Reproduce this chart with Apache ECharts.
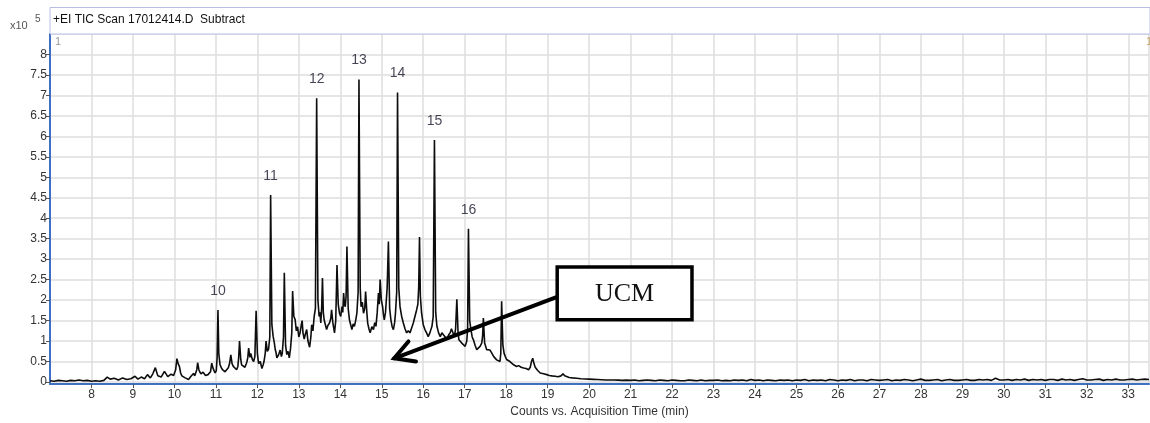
<!DOCTYPE html>
<html>
<head>
<meta charset="utf-8">
<script src="https://cdn.jsdelivr.net/npm/echarts@6/dist/echarts.min.js"></script>
<style>
  html, body { margin: 0; padding: 0; background: #ffffff; }
  #chart { width: 1150px; height: 423px; }
</style>
</head>
<body>
<div id="chart"></div>
<script>
// TIC chromatogram, counts in units of 10^5, retention time in minutes.
// Each segment is a list of [time (min), counts (x10^5)] readings.
const baselineEarly = [
  [7.0, 0.03], [7.1, 0.02], [7.2, 0.04], [7.3, 0.03], [7.4, 0.02], [7.5, 0.04],
  [7.6, 0.03], [7.7, 0.05], [7.8, 0.03], [7.9, 0.04], [8.0, 0.02], [8.1, 0.03],
  [8.2, 0.02], [8.3, 0.04], [8.38, 0.12], [8.45, 0.07], [8.55, 0.09], [8.65, 0.05],
  [8.75, 0.10], [8.85, 0.06], [8.95, 0.08], [9.05, 0.14], [9.12, 0.07], [9.2, 0.12],
  [9.28, 0.08], [9.35, 0.18], [9.42, 0.10], [9.48, 0.20], [9.54, 0.35], [9.6, 0.15],
  [9.68, 0.12], [9.76, 0.26], [9.84, 0.13], [9.92, 0.19], [9.98, 0.16], [10.03, 0.30]
];

const humpRising = [
  [10.06, 0.57], [10.09, 0.45], [10.12, 0.38], [10.15, 0.22], [10.18, 0.15], [10.22, 0.12],
  [10.26, 0.10], [10.3, 0.08], [10.34, 0.06], [10.37, 0.10], [10.4, 0.14], [10.43, 0.12],
  [10.46, 0.21], [10.49, 0.15], [10.51, 0.18], [10.54, 0.30], [10.56, 0.47], [10.59, 0.30],
  [10.61, 0.25], [10.64, 0.20], [10.66, 0.18], [10.69, 0.24], [10.72, 0.22], [10.75, 0.16],
  [10.78, 0.13], [10.81, 0.18], [10.84, 0.20], [10.87, 0.25], [10.9, 0.46], [10.93, 0.34],
  [10.96, 0.30], [10.98, 0.22], [11.01, 0.28], [11.03, 0.60], [11.05, 1.76], [11.07, 0.70],
  [11.1, 0.42], [11.13, 0.35], [11.16, 0.30], [11.19, 0.34], [11.22, 0.25], [11.26, 0.30],
  [11.3, 0.35], [11.33, 0.45], [11.36, 0.66], [11.39, 0.45], [11.42, 0.38], [11.46, 0.42],
  [11.5, 0.30], [11.53, 0.38], [11.55, 0.60], [11.57, 1.00], [11.6, 0.55], [11.62, 0.42],
  [11.66, 0.45], [11.7, 0.36], [11.73, 0.44], [11.75, 0.50], [11.77, 0.60], [11.79, 0.83],
  [11.82, 0.60], [11.84, 0.70], [11.88, 0.55], [11.91, 0.50], [11.94, 0.62], [11.97, 1.74],
  [12.0, 0.70], [12.03, 0.45], [12.07, 0.50], [12.11, 0.33], [12.14, 0.42], [12.16, 0.50],
  [12.19, 0.70], [12.21, 1.00], [12.24, 0.75], [12.27, 0.80], [12.3, 1.10], [12.32, 4.57],
  [12.35, 1.40], [12.38, 1.12], [12.41, 0.95], [12.43, 0.80], [12.45, 0.72], [12.47, 0.59],
  [12.51, 0.66], [12.55, 0.78], [12.58, 0.62], [12.6, 0.70], [12.63, 1.10], [12.65, 2.67],
  [12.68, 0.90], [12.71, 0.67], [12.74, 0.75], [12.77, 0.59], [12.8, 0.82], [12.83, 1.20],
  [12.85, 2.22], [12.88, 1.60], [12.91, 1.53], [12.94, 1.25], [12.97, 1.35], [13.0, 1.10],
  [13.03, 1.20], [13.06, 1.40], [13.08, 1.50], [13.1, 1.20], [13.13, 1.05], [13.16, 1.18],
  [13.19, 1.28], [13.22, 1.00], [13.26, 0.85], [13.29, 1.10], [13.31, 1.40], [13.34, 1.25],
  [13.37, 1.60], [13.4, 1.80]
];

const humpTop = [
  [13.43, 6.93], [13.46, 2.00], [13.49, 1.60], [13.51, 1.70], [13.53, 1.44], [13.55, 1.80],
  [13.57, 2.54], [13.59, 1.70], [13.61, 1.52], [13.64, 1.40], [13.67, 1.28], [13.7, 1.38],
  [13.74, 1.44], [13.77, 1.55], [13.79, 1.76], [13.82, 1.45], [13.86, 1.20], [13.89, 1.50],
  [13.92, 2.86], [13.95, 1.90], [13.98, 1.68], [14.01, 1.60], [14.04, 1.84], [14.06, 1.70],
  [14.08, 2.17], [14.1, 1.90], [14.12, 1.84], [14.14, 2.10], [14.16, 3.31], [14.19, 1.80],
  [14.22, 1.52], [14.25, 1.40], [14.28, 1.28], [14.31, 1.42], [14.34, 1.36], [14.37, 1.50],
  [14.4, 1.68], [14.43, 2.20], [14.45, 7.39], [14.48, 2.30], [14.5, 1.84], [14.53, 1.95],
  [14.56, 1.68], [14.59, 1.80], [14.61, 2.21], [14.64, 1.70], [14.66, 1.44], [14.69, 1.30],
  [14.72, 1.20], [14.76, 1.35], [14.8, 1.28], [14.83, 1.45], [14.86, 1.36], [14.89, 1.70],
  [14.92, 2.17], [14.94, 1.90], [14.96, 2.50], [14.99, 2.00], [15.02, 1.84], [15.04, 1.65],
  [15.06, 1.52], [15.09, 1.70], [15.11, 2.01], [15.13, 2.30], [15.16, 3.43], [15.19, 1.80],
  [15.22, 1.52], [15.25, 1.35], [15.28, 1.28], [15.31, 1.45], [15.33, 1.68], [15.36, 2.20],
  [15.38, 7.07], [15.41, 2.30], [15.44, 1.84], [15.48, 1.60], [15.52, 1.44], [15.56, 1.30],
  [15.6, 1.20], [15.64, 1.25], [15.68, 1.20], [15.72, 1.32], [15.76, 1.44], [15.8, 1.60],
  [15.84, 1.76], [15.87, 1.90], [15.89, 2.30], [15.91, 3.54], [15.93, 2.10], [15.96, 1.68],
  [16.0, 1.40], [16.04, 1.28], [16.08, 1.20], [16.12, 1.11], [16.16, 1.20], [16.21, 1.36],
  [16.24, 1.60], [16.27, 5.91], [16.3, 1.70], [16.33, 1.36], [16.37, 1.20], [16.41, 1.11],
  [16.45, 1.20], [16.49, 1.15], [16.53, 1.10], [16.57, 1.03], [16.61, 1.15], [16.65, 1.20],
  [16.68, 1.30], [16.71, 1.28], [16.75, 1.11], [16.78, 1.30], [16.81, 2.02], [16.84, 1.20],
  [16.86, 1.03], [16.9, 1.05], [16.93, 0.95], [16.97, 0.92], [17.01, 0.87], [17.05, 1.00],
  [17.07, 1.30], [17.09, 3.74]
];

const humpFalling = [
  [17.12, 1.50], [17.15, 1.28], [17.18, 1.10], [17.21, 1.03], [17.25, 0.90], [17.29, 0.79],
  [17.33, 0.82], [17.37, 0.87], [17.41, 0.95], [17.43, 1.10], [17.45, 1.56], [17.48, 0.95],
  [17.53, 0.79], [17.57, 0.75], [17.61, 0.78], [17.65, 0.71], [17.7, 0.62], [17.74, 0.60],
  [17.77, 0.54], [17.81, 0.55], [17.85, 0.50], [17.87, 0.70], [17.89, 1.97], [17.92, 0.90],
  [17.95, 0.70], [17.98, 0.62], [18.01, 0.55], [18.05, 0.52], [18.09, 0.50], [18.13, 0.48],
  [18.18, 0.42], [18.25, 0.38], [18.3, 0.40], [18.36, 0.36], [18.42, 0.34], [18.48, 0.33],
  [18.54, 0.30], [18.58, 0.36], [18.61, 0.50], [18.64, 0.58], [18.67, 0.45], [18.7, 0.36],
  [18.76, 0.28], [18.82, 0.22], [18.9, 0.20], [18.98, 0.18], [19.04, 0.16], [19.1, 0.15],
  [19.18, 0.14], [19.25, 0.13], [19.32, 0.15], [19.37, 0.20], [19.41, 0.15], [19.45, 0.12],
  [19.52, 0.11], [19.6, 0.10], [19.7, 0.09], [19.8, 0.08], [19.9, 0.075], [20.0, 0.07],
  [20.1, 0.065], [20.2, 0.06], [20.3, 0.055], [20.4, 0.05], [20.5, 0.05], [20.6, 0.05],
  [20.7, 0.045], [20.8, 0.04], [20.9, 0.045]
];

// Late baseline, read every 0.1 min from 21.0 min on.
const tailStartTime = 21.0;
const tailStepTime = 0.1;
const tailCounts = [
  0.04, 0.05, 0.03, 0.04, 0.05, 0.04, 0.03, 0.05, 0.04, 0.03,
  0.05, 0.04, 0.03, 0.03, 0.05, 0.04, 0.03, 0.05, 0.03, 0.04,
  0.04, 0.05, 0.03, 0.04, 0.03, 0.05, 0.04, 0.05, 0.03, 0.06,
  0.04, 0.05, 0.03, 0.05, 0.04, 0.03, 0.05, 0.04, 0.05, 0.03,
  0.05, 0.04, 0.06, 0.03, 0.05, 0.04, 0.05, 0.03, 0.06, 0.05,
  0.03, 0.05, 0.04, 0.06, 0.03, 0.05, 0.05, 0.03, 0.06, 0.05,
  0.04, 0.05, 0.06, 0.03, 0.05, 0.04, 0.06, 0.05, 0.03, 0.05,
  0.07, 0.04, 0.04, 0.05, 0.06, 0.03, 0.05, 0.06, 0.04, 0.04,
  0.05, 0.06, 0.04, 0.04, 0.06, 0.05, 0.06, 0.04, 0.09, 0.05,
  0.05, 0.06, 0.04, 0.06, 0.05, 0.07, 0.04, 0.06, 0.05, 0.06,
  0.04, 0.06, 0.06, 0.04, 0.07, 0.05, 0.06, 0.04, 0.06, 0.08,
  0.05, 0.05, 0.06, 0.07, 0.04, 0.06, 0.05, 0.07, 0.05, 0.05,
  0.06, 0.07, 0.05, 0.06, 0.07, 0.06
];

// Numbered n-alkane peaks and their retention times.
const peakNumbers = ['10', '11', '12', '13', '14', '15', '16'];
const peakTimes = [11.05, 12.32, 13.43, 14.45, 15.38, 16.27, 17.09];

const titleText = '+EI TIC Scan 17012414.D  Subtract';
const xAxisTitle = 'Counts vs. Acquisition Time (min)';
const annotationText = 'UCM';

// ---- assemble the trace ----
const tailSegment = tailCounts.map((c, i) => [+(tailStartTime + i * tailStepTime).toFixed(2), c]);
const trace = [].concat(baselineEarly, humpRising, humpTop, humpFalling, tailSegment);

function countAt(t) {
  let best = trace[0];
  for (const p of trace) if (Math.abs(p[0] - t) < Math.abs(best[0] - t)) best = p;
  return best[1];
}
const peakMarks = peakTimes.map((t, i) => ({ name: peakNumbers[i], value: [t, countAt(t)] }));

const AXIS_BLUE = '#3f6fc2';
const GRID_GREY = '#dedede';

const chart = echarts.init(document.getElementById('chart'), null, { renderer: 'canvas' });

chart.setOption({
  animation: false,
  backgroundColor: '#ffffff',
  textStyle: { fontFamily: 'Liberation Sans, Arial, sans-serif' },
  grid: [
    { left: 50, right: 1, top: 34, bottom: 41 },   // data + y scale
    { left: 50, right: 1, top: 34, bottom: 36 }    // frame + time axis
  ],
  xAxis: [
    {
      type: 'value', gridIndex: 0, min: 7, max: 33.5, interval: 1,
      axisLine: { show: false }, axisTick: { show: false },
      axisLabel: { show: false }, splitLine: { show: false }
    },
    {
      type: 'value', gridIndex: 1, min: 7, max: 33.5, interval: 1,
      axisLine: { show: true, lineStyle: { color: AXIS_BLUE, width: 2 } },
      axisTick: { show: true, length: 4, lineStyle: { color: '#555' } },
      axisLabel: {
        show: true, color: '#333', fontSize: 12, margin: 5,
        showMinLabel: false, showMaxLabel: false
      },
      splitLine: { show: true, lineStyle: { color: GRID_GREY, width: 1.5 } },
      name: xAxisTitle, nameLocation: 'middle', nameGap: 20,
      nameTextStyle: { color: '#333', fontSize: 12 }
    }
  ],
  yAxis: [
    {
      type: 'value', gridIndex: 0, min: 0, max: 8.5, interval: 0.5,
      axisLine: { show: false },
      axisTick: { show: true, length: 4, lineStyle: { color: '#555' } },
      axisLabel: { color: '#333', fontSize: 12, margin: 3, showMaxLabel: false },
      splitLine: { show: true, lineStyle: { color: GRID_GREY, width: 1.5 } }
    },
    {
      type: 'value', gridIndex: 1, min: 0, max: 8.5,
      axisLine: { show: true, lineStyle: { color: AXIS_BLUE, width: 2 } },
      axisTick: { show: false }, axisLabel: { show: false }, splitLine: { show: false }
    }
  ],
  series: [
    {
      type: 'line', xAxisIndex: 0, yAxisIndex: 0, data: trace,
      showSymbol: false, symbol: 'none', smooth: false,
      lineStyle: { color: '#0d0d0d', width: 1.6 }, z: 5
    },
    {
      type: 'scatter', xAxisIndex: 0, yAxisIndex: 0, data: peakMarks,
      symbolSize: 0, z: 6,
      label: {
        show: true, position: 'top', distance: 12,
        formatter: p => p.name, color: '#15152a', fontSize: 14
      }
    }
  ]
});

// ---- annotations: header strip, scale factor and the UCM call-out ----
const ucmBox = { tLeft: 19.23, tRight: 22.48, top: 2.81, bottom: 1.52 };
const ucmArrow = { tail: [19.23, 2.08], tip: [15.30, 0.58] };

function px(p) { return chart.convertToPixel({ xAxisIndex: 0, yAxisIndex: 0 }, p); }

const boxTL = px([ucmBox.tLeft, ucmBox.top]);
const boxBR = px([ucmBox.tRight, ucmBox.bottom]);
const tail = px(ucmArrow.tail);
const tip = px(ucmArrow.tip);
const ang = Math.atan2(tail[1] - tip[1], tail[0] - tip[0]);
const armLen = 22, spread = Math.PI / 6.2;
const arm1 = [tip[0] + armLen * Math.cos(ang - spread), tip[1] + armLen * Math.sin(ang - spread)];
const arm2 = [tip[0] + armLen * Math.cos(ang + spread), tip[1] + armLen * Math.sin(ang + spread)];

const plotLeft = px([7, 0])[0];
const plotRight = chart.getWidth();
const plotTop = px([7, 8.5])[1];

chart.setOption({
  graphic: [
    {
      type: 'rect', silent: true, z: 10,
      shape: { x: plotLeft, y: 7.5, width: plotRight - plotLeft, height: plotTop - 7.5 },
      style: { fill: '#ffffff', stroke: '#b9bde3', lineWidth: 1 }
    },
    {
      type: 'text', silent: true, z: 11, x: plotLeft + 3, y: 20,
      style: { text: titleText, fill: '#111', fontSize: 12, fontFamily: 'Liberation Sans, Arial, sans-serif', verticalAlign: 'middle' }
    },
    {
      type: 'text', silent: true, z: 11, x: 10, y: 26,
      style: { text: 'x10', fill: '#555', fontSize: 11, fontFamily: 'Liberation Sans, Arial, sans-serif', verticalAlign: 'middle' }
    },
    {
      type: 'text', silent: true, z: 11, x: 35, y: 19,
      style: { text: '5', fill: '#555', fontSize: 10, fontFamily: 'Liberation Sans, Arial, sans-serif', verticalAlign: 'middle' }
    },
    {
      type: 'text', silent: true, z: 11, x: plotLeft + 5, y: plotTop + 8,
      style: { text: '1', fill: '#9a9a9a', fontSize: 11, fontFamily: 'Liberation Sans, Arial, sans-serif', verticalAlign: 'middle' }
    },
    {
      type: 'text', silent: true, z: 11, x: plotRight - 4, y: plotTop + 8,
      style: { text: '1', fill: '#c9a36a', fontSize: 11, fontFamily: 'Liberation Sans, Arial, sans-serif', verticalAlign: 'middle' }
    },
    {
      type: 'line', silent: true, z: 12,
      shape: { x1: tail[0], y1: tail[1], x2: tip[0], y2: tip[1] },
      style: { stroke: '#000', lineWidth: 4, lineCap: 'round' }
    },
    {
      type: 'polyline', silent: true, z: 12,
      shape: { points: [arm1, tip, arm2] },
      style: { stroke: '#000', lineWidth: 4, lineCap: 'round', lineJoin: 'miter', fill: null }
    },
    {
      type: 'rect', silent: true, z: 13,
      shape: { x: boxTL[0], y: boxTL[1], width: boxBR[0] - boxTL[0], height: boxBR[1] - boxTL[1] },
      style: { fill: '#ffffff', stroke: '#000', lineWidth: 3.5 }
    },
    {
      type: 'text', silent: true, z: 14,
      x: (boxTL[0] + boxBR[0]) / 2, y: (boxTL[1] + boxBR[1]) / 2 + 1,
      style: {
        text: annotationText, fill: '#111', fontSize: 26,
        fontFamily: 'Liberation Serif, Times New Roman, serif',
        align: 'center', verticalAlign: 'middle'
      }
    }
  ]
});
</script>
</body>
</html>
